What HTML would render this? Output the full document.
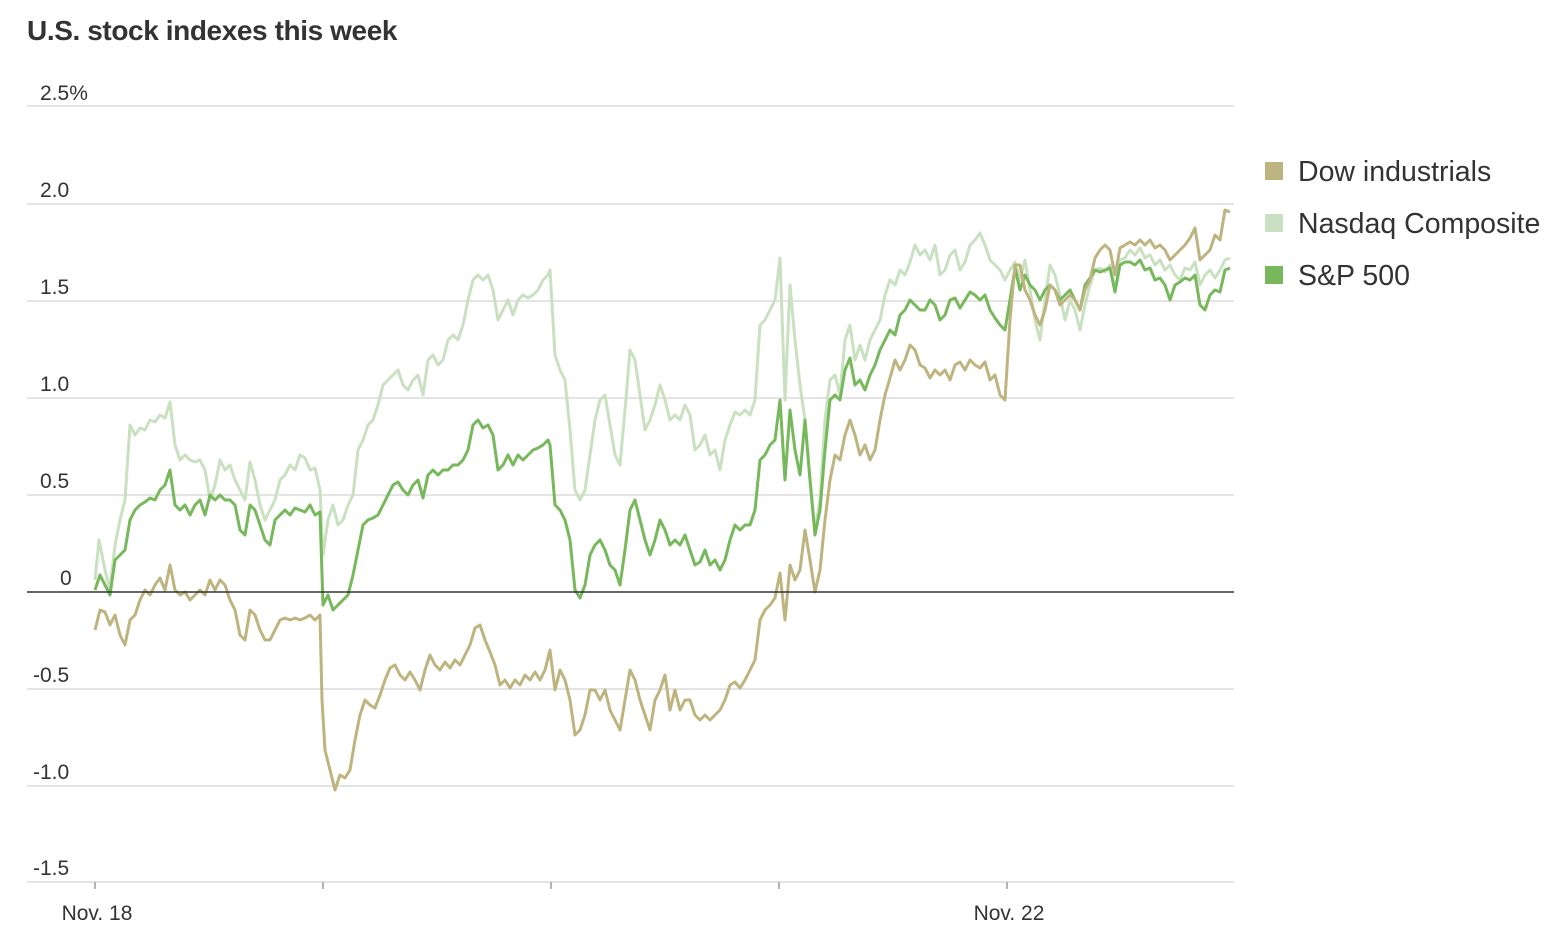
<!DOCTYPE html>
<html><head><meta charset="utf-8"><style>
html,body{margin:0;padding:0;background:#fff;}
svg{display:block;font-family:"Liberation Sans",sans-serif;}
</style></head><body>
<svg width="1568" height="946" viewBox="0 0 1568 946" xmlns="http://www.w3.org/2000/svg">
<text x="27" y="40" font-size="28" font-weight="bold" fill="#333" letter-spacing="-0.4">U.S. stock indexes this week</text>
<g stroke="#dcdcdc" stroke-width="1.5">
<line x1="27" x2="1234" y1="106" y2="106"/><line x1="27" x2="1234" y1="204" y2="204"/>
<line x1="27" x2="1234" y1="301" y2="301"/><line x1="27" x2="1234" y1="398" y2="398"/>
<line x1="27" x2="1234" y1="495" y2="495"/><line x1="27" x2="1234" y1="689" y2="689"/>
<line x1="27" x2="1234" y1="786" y2="786"/><line x1="27" x2="1234" y1="882" y2="882"/>
</g>
<g stroke="#999" stroke-width="1.5"><line x1="95" x2="95" y1="882" y2="889"/><line x1="323" x2="323" y1="882" y2="889"/><line x1="551" x2="551" y1="882" y2="889"/><line x1="779" x2="779" y1="882" y2="889"/><line x1="1007" x2="1007" y1="882" y2="889"/></g>
<g font-size="21" fill="#333">
<text x="40" y="100">2.5%</text><text x="40" y="197">2.0</text><text x="40" y="294">1.5</text><text x="40" y="391">1.0</text><text x="40" y="488">0.5</text><text x="60" y="585">0</text><text x="33" y="682">-0.5</text><text x="33" y="779">-1.0</text><text x="33" y="875">-1.5</text>
<text x="97" y="920" text-anchor="middle">Nov. 18</text><text x="1009" y="920" text-anchor="middle">Nov. 22</text>
</g>
<g fill="none" stroke-width="3" stroke-linejoin="round">
<polyline stroke="#c9e1c0" points="95,580 99,540 105,570 110,590 115,545 120,520 125,500 130,425 135,435 140,428 145,430 150,420 155,422 160,415 165,418 170,402 175,445 180,460 185,455 190,460 195,462 200,460 205,470 210,500 215,485 220,460 225,470 230,465 235,480 240,490 245,500 250,462 255,480 260,505 265,520 270,510 275,500 280,480 285,475 290,465 295,470 300,455 305,458 310,470 315,468 320,490 323,555 328,520 333,505 338,525 343,520 348,505 353,495 358,450 363,440 368,425 373,420 378,405 383,385 388,380 393,375 398,370 403,385 408,390 413,380 418,375 423,395 428,360 433,355 438,365 443,360 448,340 453,335 458,340 463,325 468,300 473,280 478,275 483,280 488,275 493,290 498,320 503,310 508,300 513,315 518,300 523,295 528,298 533,295 538,290 543,280 548,275 550,270 555,355 560,370 565,380 570,430 575,490 580,500 585,490 590,455 595,420 600,400 605,395 610,425 615,455 620,465 625,410 630,350 635,360 640,395 645,430 650,420 655,405 660,385 665,400 670,420 675,415 680,420 685,405 690,415 695,450 700,445 705,435 710,455 715,450 720,470 725,440 730,425 735,412 740,415 745,410 750,415 755,400 760,325 765,320 770,310 775,300 780,258 785,400 790,285 795,340 800,385 805,420 810,480 815,530 820,500 825,420 830,380 835,375 840,395 845,340 850,325 855,360 860,345 865,360 870,340 875,330 880,320 885,295 890,280 895,285 900,270 905,275 910,262 915,245 920,255 925,250 930,260 935,245 940,275 945,270 950,255 955,250 960,270 965,262 970,245 975,240 980,233 985,245 990,260 995,265 1000,270 1005,280 1010,270 1015,262 1020,280 1025,260 1030,290 1035,320 1040,340 1045,300 1050,265 1055,275 1060,295 1065,320 1070,300 1075,310 1080,330 1085,305 1090,285 1095,270 1100,268 1105,272 1110,265 1115,290 1120,260 1125,258 1130,250 1135,255 1140,248 1145,258 1150,255 1155,265 1160,260 1165,270 1170,265 1175,275 1180,280 1185,268 1190,270 1195,262 1200,285 1205,275 1210,270 1215,278 1220,270 1225,260 1230,258"/>
<polyline stroke="#76b85b" points="95,590 100,575 105,585 110,595 115,560 120,555 125,550 130,520 135,510 140,505 145,502 150,498 155,500 160,490 165,485 170,470 175,505 180,510 185,505 190,515 195,505 200,500 205,515 210,495 215,500 220,495 225,500 230,500 235,505 240,530 245,535 250,505 255,510 260,525 265,540 270,545 275,520 280,515 285,510 290,515 295,508 300,510 305,512 310,505 315,515 320,512 323,605 328,595 333,610 338,605 343,600 348,595 353,575 358,550 363,525 368,520 373,518 378,515 383,505 388,495 393,485 398,482 403,490 408,495 413,485 418,480 423,498 428,475 433,470 438,475 443,470 448,470 453,465 458,465 463,460 468,450 473,425 478,420 483,428 488,425 493,435 498,470 503,465 508,455 513,465 518,455 523,460 528,455 533,450 538,448 543,445 548,440 550,445 555,505 560,510 565,520 570,540 575,590 580,598 585,585 590,555 595,545 600,540 605,550 610,565 615,570 620,585 625,550 630,510 635,500 640,520 645,540 650,555 655,540 660,520 665,530 670,545 675,540 680,545 685,535 690,550 695,565 700,562 705,550 710,565 715,560 720,570 725,560 730,540 735,525 740,530 745,525 750,525 755,510 760,460 765,455 770,445 775,440 780,400 785,480 790,410 795,450 800,475 805,420 810,480 815,535 820,510 825,450 830,400 835,395 840,400 845,370 850,358 855,385 860,380 865,390 870,375 875,365 880,350 885,340 890,330 895,335 900,315 905,310 910,300 915,305 920,310 925,310 930,300 935,305 940,320 945,315 950,300 955,298 960,308 965,300 970,292 975,295 980,300 985,295 990,310 995,318 1000,325 1005,330 1010,300 1015,268 1020,290 1025,275 1030,285 1035,290 1040,300 1045,290 1050,285 1055,290 1060,300 1065,295 1070,290 1075,300 1080,310 1085,285 1090,278 1095,270 1100,272 1105,270 1110,268 1115,292 1120,265 1125,262 1130,262 1135,265 1140,260 1145,270 1150,268 1155,280 1160,278 1165,285 1170,300 1175,285 1180,282 1185,278 1190,280 1195,275 1200,305 1205,310 1210,295 1215,290 1220,292 1225,270 1230,268"/>
<polyline stroke="#bdb47f" points="95,630 100,610 105,612 110,625 115,615 120,635 125,645 130,620 135,615 140,600 145,590 150,595 155,585 160,578 165,590 170,565 175,590 180,595 185,592 190,600 195,595 200,590 205,595 210,580 215,590 220,580 225,585 230,600 235,610 240,635 245,640 250,610 255,615 260,630 265,640 270,640 275,630 280,620 285,618 290,620 295,618 300,620 305,618 310,615 315,620 320,615 322,700 325,750 330,770 335,790 340,775 345,778 350,770 355,740 360,715 365,700 370,705 375,708 380,695 385,680 390,668 395,665 400,675 405,680 410,672 415,680 420,690 425,670 430,655 435,665 440,670 445,662 450,668 455,660 460,665 465,655 470,645 475,628 480,625 485,640 490,652 495,665 500,685 505,680 510,688 515,680 520,685 525,675 530,680 535,672 540,680 545,670 550,650 555,690 560,670 565,680 570,700 575,735 580,730 585,715 590,690 595,690 600,700 605,690 610,710 615,720 620,730 625,700 630,670 635,680 640,700 645,715 650,730 655,700 660,690 665,675 670,710 675,690 680,710 685,700 690,700 695,715 700,720 705,715 710,720 715,715 720,710 725,700 730,685 735,682 740,688 745,680 750,670 755,660 760,620 765,610 770,605 775,598 780,573 785,620 790,565 795,580 800,570 805,530 810,560 815,592 820,570 825,520 830,480 835,455 840,460 845,435 850,420 855,435 860,455 865,445 870,460 875,450 880,420 885,395 890,378 895,360 900,370 905,360 910,345 915,350 920,365 925,368 930,378 935,370 940,375 945,370 950,380 955,365 960,362 965,370 970,360 975,365 980,368 985,362 990,380 995,375 1000,395 1005,400 1010,320 1015,265 1020,265 1025,290 1030,300 1035,315 1040,325 1045,310 1050,285 1055,290 1060,305 1065,300 1070,295 1075,300 1080,310 1085,290 1090,280 1095,258 1100,250 1105,245 1110,250 1115,275 1120,248 1125,245 1130,242 1135,245 1140,240 1145,245 1150,240 1155,248 1160,245 1165,250 1170,260 1175,255 1180,250 1185,245 1190,238 1195,228 1200,260 1205,255 1210,250 1215,235 1220,240 1225,210 1230,212"/>
</g>
<line x1="27" x2="1234" y1="592" y2="592" stroke="#333" stroke-width="1.5"/>
<rect x="1265" y="162" width="18" height="18" fill="#bdb47f"/>
<rect x="1265" y="214" width="18" height="18" fill="#c9e1c0"/>
<rect x="1265" y="266" width="18" height="18" fill="#76b85b"/>
<g font-size="28.5" fill="#333">
<text x="1298" y="181">Dow industrials</text>
<text x="1298" y="233">Nasdaq Composite</text>
<text x="1298" y="285">S&amp;P 500</text>
</g>
</svg>
</body></html>
